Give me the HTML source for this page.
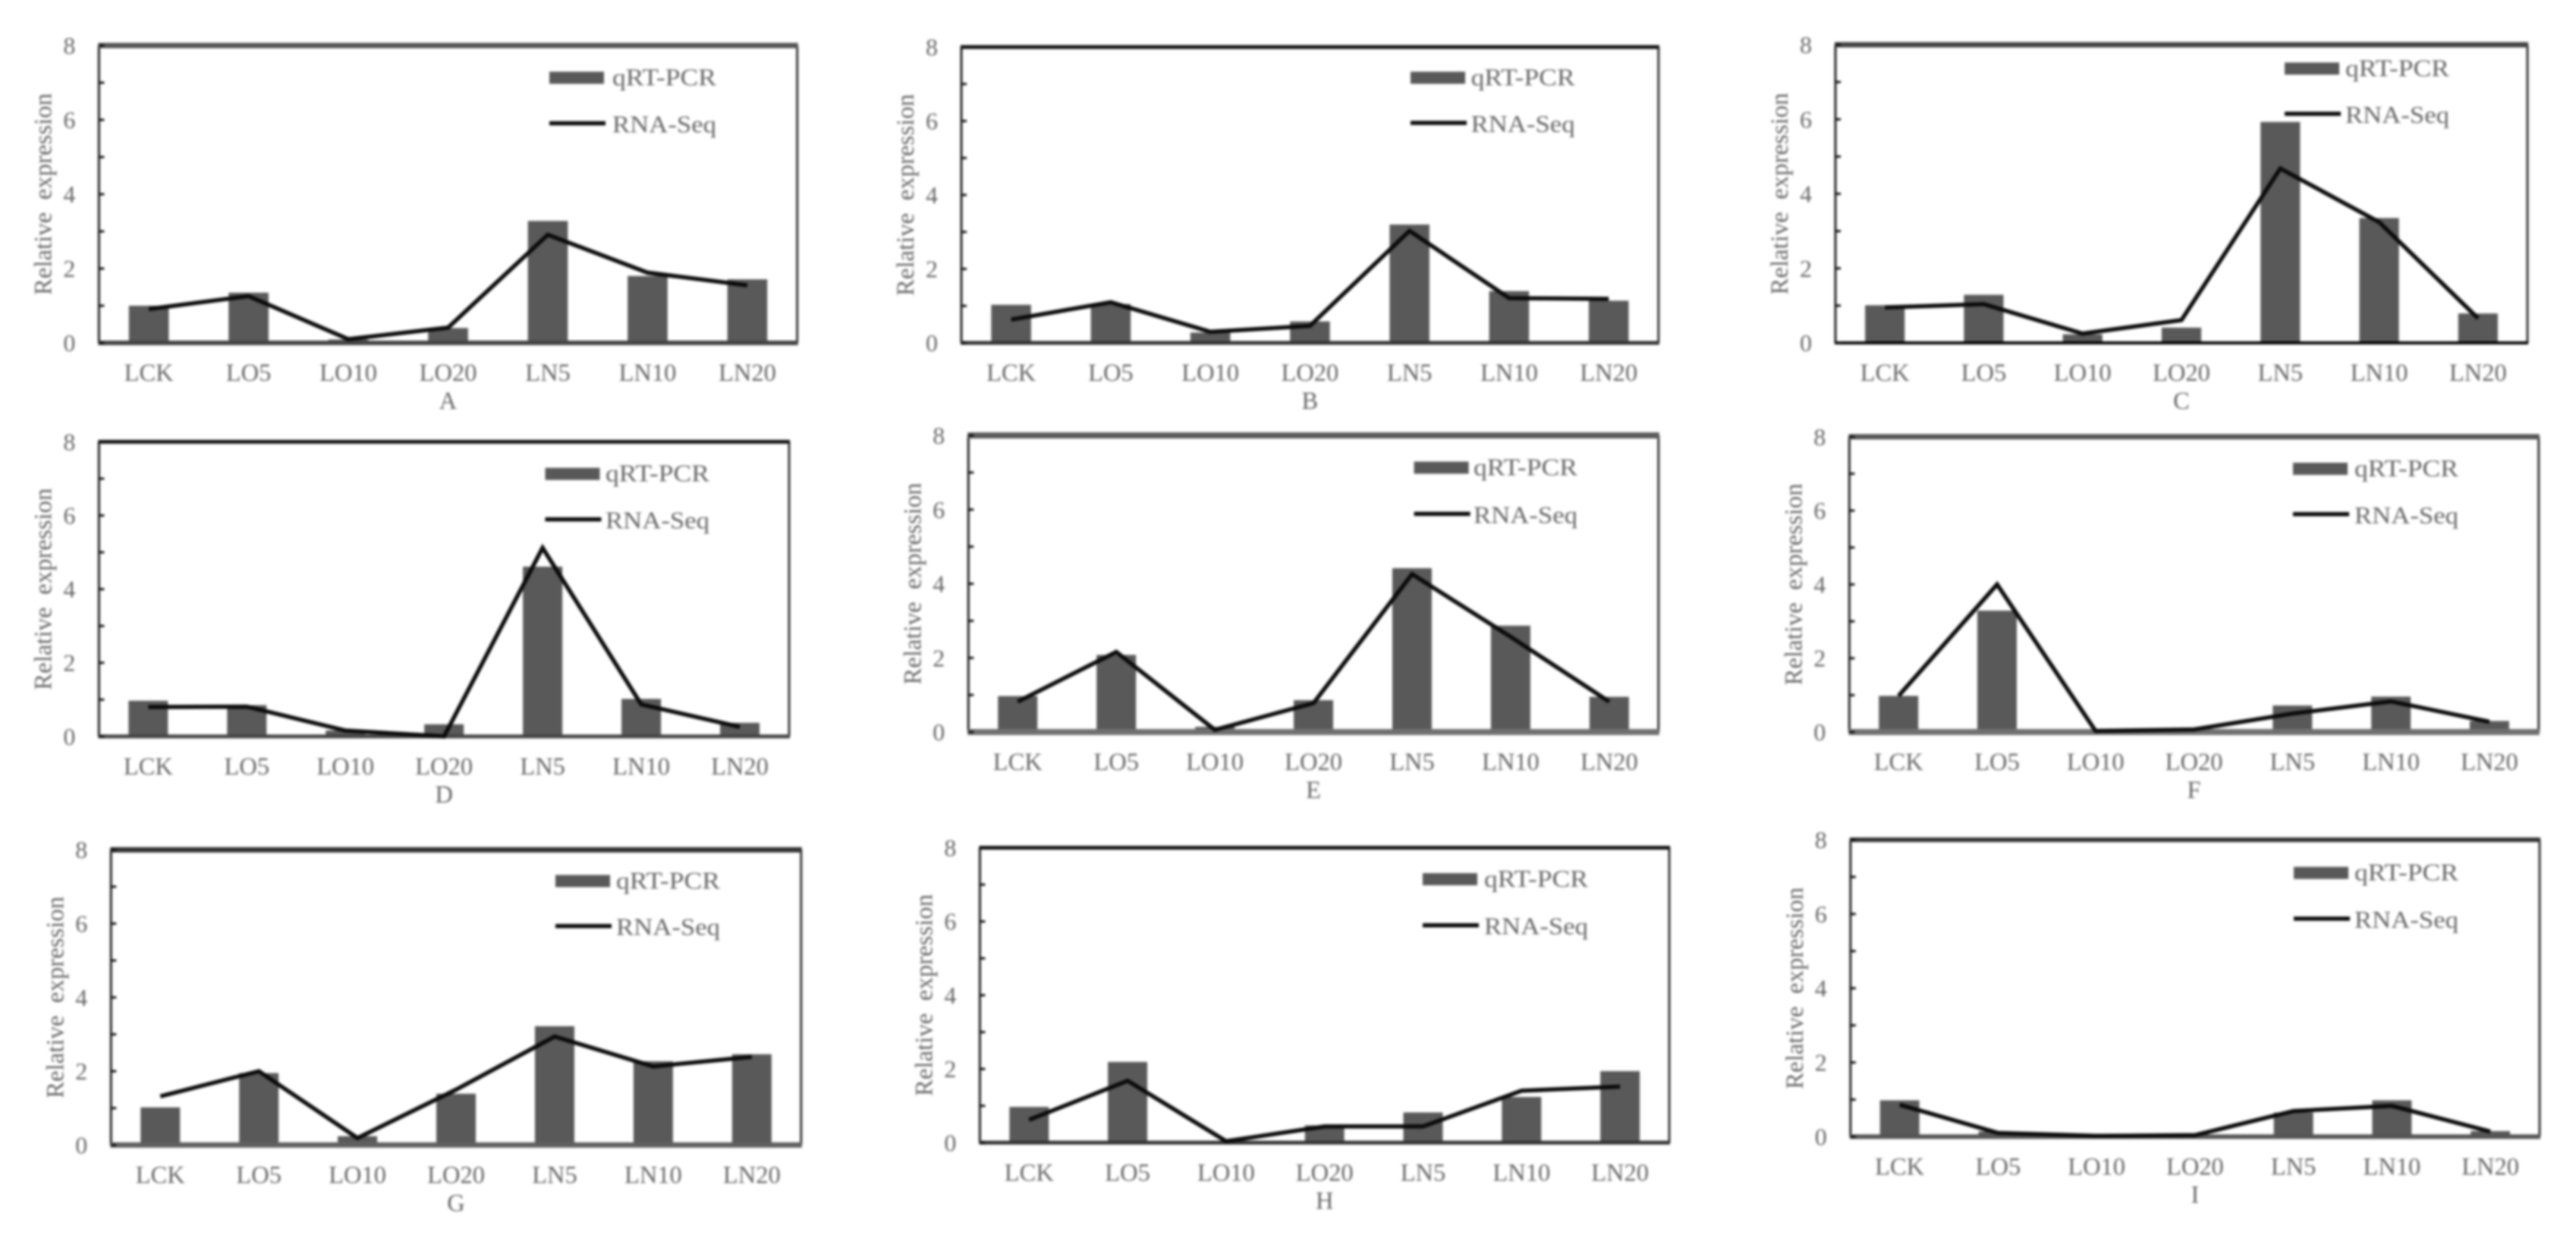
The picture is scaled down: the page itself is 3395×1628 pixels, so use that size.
<!DOCTYPE html>
<html lang="en">
<head>
<meta charset="utf-8">
<title>Relative expression: qRT-PCR and RNA-Seq, panels A to I</title>
<style>
html,body{margin:0;padding:0;background:#fff;width:3395px;height:1628px;overflow:hidden}
svg{display:block}
text{font-family:"Liberation Serif","Times New Roman",serif;fill:#666;white-space:pre}
#chart-content{filter:blur(1.6px)}
</style>
</head>
<body>
<svg id="figure" xmlns="http://www.w3.org/2000/svg" width="3395" height="1628" viewBox="0 0 3395 1628">
<rect width="3395" height="1628" fill="#fff"/>
<g id="chart-content"></g>
</svg>
<script>
const categories = ['LCK','LO5','LO10','LO20','LN5','LN10','LN20'];
const yTickLabels = [0,2,4,6,8];
const yTickMarks = [0,1,2,3,4,5,6,7,8];
const yMax = 8;
const panelNames = ['A','B','C','D','E','F','G','H','I'];

const qpcrA = [1.00,1.35,0.09,0.40,3.28,1.80,1.71];
const rnaA  = [0.91,1.26,0.10,0.41,2.91,1.89,1.55];
const qpcrB = [1.03,1.05,0.28,0.58,3.20,1.40,1.14];
const rnaB  = [0.63,1.10,0.30,0.46,3.03,1.21,1.19];
const qpcrC = [1.01,1.29,0.23,0.41,5.93,3.35,0.79];
const rnaC  = [0.95,1.04,0.25,0.61,4.68,3.24,0.66];
const qpcrD = [0.97,0.85,0.16,0.33,4.61,1.02,0.37];
const rnaD  = [0.80,0.81,0.16,0.00,5.12,0.87,0.26];
const qpcrE = [0.97,2.08,0.14,0.86,4.42,2.87,0.95];
const rnaE  = [0.82,2.16,0.06,0.78,4.26,2.57,0.82];
const qpcrF = [0.98,3.29,0.02,0.04,0.72,0.96,0.30];
const rnaF  = [0.98,4.00,0.03,0.07,0.50,0.83,0.28];
const qpcrG = [1.02,1.95,0.24,1.39,3.22,2.27,2.46];
const rnaG  = [1.32,2.00,0.19,1.50,2.94,2.13,2.39];
const qpcrH = [0.97,2.19,0.02,0.47,0.82,1.24,1.94];
const rnaH  = [0.62,1.68,0.04,0.44,0.44,1.41,1.52];
const qpcrI = [0.98,0.14,0.01,0.03,0.65,0.98,0.15];
const rnaI  = [0.86,0.10,0.02,0.04,0.69,0.83,0.14];

const qpcrSeries = [qpcrA,qpcrB,qpcrC,qpcrD,qpcrE,qpcrF,qpcrG,qpcrH,qpcrI];
const rnaSeries  = [rnaA,rnaB,rnaC,rnaD,rnaE,rnaF,rnaG,rnaH,rnaI];

const yAxisTitle = 'Relative  expression';
const legendBarLabel = 'qRT-PCR';
const legendLineLabel = 'RNA-Seq';

/* panel geometry: plot box, legend placement, frame line weights */
const layouts = [
 {l:130.4,r:1050.7,t:60,b:452,sw:724,ty:102.5,ly:162.5,tx:807,tw:7,tc:'#555',bw:6,bc:'#444'},
 {l:1267,r:2185.8,t:62,b:452,sw:1859,ty:102.5,ly:162,tx:1938.6,tw:5,tc:'#111',bw:5,bc:'#333'},
 {l:2419,r:3331,t:59,b:452,sw:3011,ty:90.4,ly:150,tx:3091,tw:7,tc:'#444',bw:4,bc:'#000'},
 {l:130.4,r:1040,t:582.4,b:970.8,sw:718.5,ty:624.7,ly:684.6,tx:798,tw:5,tc:'#111',bw:5,bc:'#444'},
 {l:1276.3,r:2185.8,t:574,b:965,sw:1863.6,ty:616.5,ly:677.4,tx:1942,tw:8,tc:'#5a5a5a',bw:8,bc:'#707070'},
 {l:2437.3,r:3345.8,t:575.8,b:965,sw:3022,ty:618,ly:677.8,tx:3103,tw:7,tc:'#555',bw:8,bc:'#707070'},
 {l:146.3,r:1055.8,t:1120.2,b:1509.4,sw:732,ty:1161.4,ly:1220.7,tx:812,tw:7,tc:'#333',bw:7,bc:'#606060'},
 {l:1291.4,r:2200,t:1117.5,b:1506.3,sw:1875,ty:1159,ly:1219.7,tx:1956,tw:5,tc:'#111',bw:5,bc:'#333'},
 {l:2438.8,r:3347,t:1107,b:1498.4,sw:3023,ty:1150.7,ly:1211,tx:3103,tw:6,tc:'#333',bw:6,bc:'#555'}
];

const NS = 'http://www.w3.org/2000/svg';
const root = document.getElementById('chart-content');

function make(tag, attrs, parent, txt){
  const el = document.createElementNS(NS, tag);
  for (const k in attrs) el.setAttribute(k, attrs[k]);
  if (txt !== undefined) el.textContent = txt;
  parent.appendChild(el);
  return el;
}

function drawPanel(idx){
  const L = layouts[idx];
  const name = panelNames[idx];
  const qpcr = qpcrSeries[idx];
  const rna = rnaSeries[idx];
  const xScale = i => L.l + (L.r - L.l) * (i + 0.5) / categories.length;
  const yScale = v => L.b - (L.b - L.t) * v / yMax;
  const barW = (L.r - L.l) / categories.length * 0.4;

  const g = make('g', {}, root);
  
  

  qpcr.forEach((v, i) => {
    const bar = make('rect', {x: xScale(i) - barW / 2, y: yScale(v), width: barW, height: L.b - yScale(v), fill: '#595959'}, g);
    
    
  });

  const leftAxis = make('line', {x1: L.l, x2: L.l, y1: L.t, y2: L.b, stroke: '#222', 'stroke-width': 3}, g);
  
  
  const rightEdge = make('line', {x1: L.r, x2: L.r, y1: L.t, y2: L.b, stroke: '#333', 'stroke-width': 3}, g);
  
  
  const topEdge = make('line', {x1: L.l - 1, x2: L.r + 1, y1: L.t, y2: L.t, stroke: L.tc, 'stroke-width': L.tw}, g);
  
  
  const baseEdge = make('line', {x1: L.l - 1, x2: L.r + 1, y1: L.b, y2: L.b, stroke: L.bc, 'stroke-width': L.bw}, g);
  
  

  yTickMarks.forEach(v => {
    const tick = make('line', {x1: L.l, x2: L.l + 7, y1: yScale(v), y2: yScale(v), stroke: '#111', 'stroke-width': 3}, g);
    
    
  });
  yTickLabels.forEach(v => {
    const lab = make('text', {x: L.l - 31, y: yScale(v) + 11, 'text-anchor': 'end', 'font-size': 32}, g, String(v));
    
    
  });
  categories.forEach((c, i) => {
    const lab = make('text', {x: xScale(i), y: L.b + 50, 'text-anchor': 'middle', 'font-size': 32.5}, g, c);
    
    
  });

  const panelLabel = make('text', {x: (L.l + L.r) / 2, y: L.b + 87, 'text-anchor': 'middle', 'font-size': 32.5}, g, name);
  
  

  const cy = (L.t + L.b) / 2;
  const yTitle = make('text', {x: 0, y: 0, 'text-anchor': 'middle', 'font-size': 33, textLength: 266, lengthAdjust: 'spacingAndGlyphs', transform: 'translate(' + (L.l - 63) + ',' + cy + ') rotate(-90)'}, g, yAxisTitle);
  
  

  const pts = rna.map((v, i) => xScale(i).toFixed(1) + ',' + yScale(v).toFixed(1)).join(' ');
  const line = make('polyline', {points: pts, fill: 'none', stroke: '#0a0a0a', 'stroke-width': 5.5, 'stroke-linejoin': 'miter'}, g);
  
  

  const swatch = make('rect', {x: L.sw, y: L.ty - 8, width: 72, height: 16, fill: '#595959'}, g);
  
  
  const legBar = make('text', {x: L.tx, y: L.ty + 10, 'font-size': 32, textLength: 137, lengthAdjust: 'spacingAndGlyphs'}, g, legendBarLabel);
  
  
  const swLine = make('line', {x1: L.sw, x2: L.sw + 74, y1: L.ly, y2: L.ly, stroke: '#0a0a0a', 'stroke-width': 5.5}, g);
  
  
  const legLine = make('text', {x: L.tx, y: L.ly + 12, 'font-size': 32, textLength: 137, lengthAdjust: 'spacingAndGlyphs'}, g, legendLineLabel);
  
  
}

panelNames.forEach((_, i) => drawPanel(i));
</script>
</body>
</html>
